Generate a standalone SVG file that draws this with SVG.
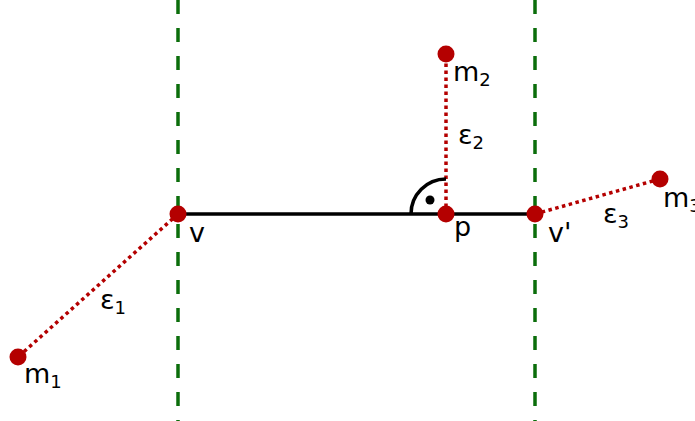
<svg xmlns="http://www.w3.org/2000/svg" width="695" height="421" viewBox="0 0 695 421">
<style>
.guide{stroke:#0b6e0b;stroke-width:3.5;stroke-dasharray:14 14;fill:none}
.err{stroke:#b40000;stroke-width:3.5;stroke-dasharray:3.5 3.5;fill:none}
.pt{fill:#b40000}
.lbl{font-family:"DejaVu Sans",sans-serif;font-size:27px;fill:#000}
.sub{font-size:18px}
</style>
<rect width="695" height="421" fill="#fff"/>
<g id="connectors">
<line class="guide" x1="178" y1="0" x2="178" y2="421"/>
<line class="guide" x1="535" y1="0" x2="535" y2="421"/>
<line x1="178" y1="214" x2="535" y2="214" stroke="#000" stroke-width="3.5"/>
<line class="err" x1="178" y1="214" x2="18" y2="357"/>
<line class="err" x1="446" y1="214" x2="446" y2="54"/>
<line class="err" x1="535" y1="214" x2="660" y2="179"/>
<path d="M411 214 A35 35 0 0 1 446 179" fill="none" stroke="#000" stroke-width="3.5"/>
<circle cx="430" cy="200" r="4.5" fill="#000"/>
</g>
<g id="v"><circle class="pt" cx="178" cy="214" r="8.5"/><text class="lbl" x="189" y="242">v</text></g>
<g id="p"><circle class="pt" cx="446" cy="214" r="8.5"/><text class="lbl" x="454" y="236">p</text></g>
<g id="vprime"><circle class="pt" cx="535" cy="214" r="8.5"/><text class="lbl" x="548" y="242">v'</text></g>
<g id="m1"><circle class="pt" cx="18" cy="357" r="8.5"/><text class="lbl" x="24" y="383">m<tspan class="sub" dy="5">1</tspan></text></g>
<g id="m2"><circle class="pt" cx="446" cy="54" r="8.5"/><text class="lbl" x="453" y="81">m<tspan class="sub" dy="5">2</tspan></text></g>
<g id="m3"><circle class="pt" cx="660" cy="179" r="8.5"/><text class="lbl" x="663" y="207">m<tspan class="sub" dy="5">3</tspan></text></g>
<g id="e1"><text class="lbl" x="100" y="309">ε<tspan class="sub" dy="5">1</tspan></text></g>
<g id="e2"><text class="lbl" x="458" y="144">ε<tspan class="sub" dy="5">2</tspan></text></g>
<g id="e3"><text class="lbl" x="603" y="223">ε<tspan class="sub" dy="5">3</tspan></text></g>
</svg>
